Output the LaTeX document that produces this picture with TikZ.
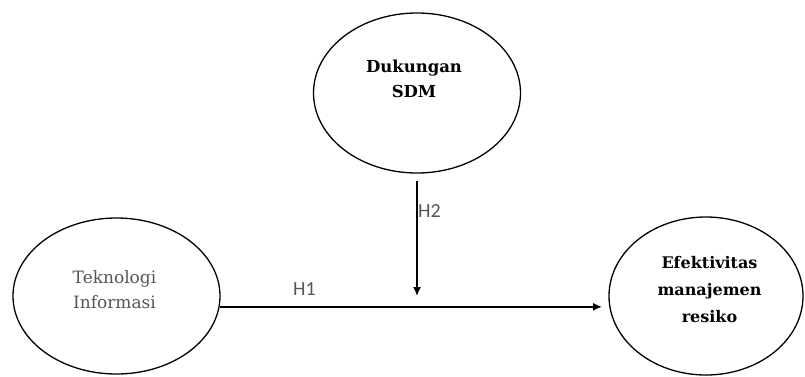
\documentclass[tikz,border=0pt]{standalone}
\usepackage{fontspec}
\setmainfont{DejaVu Serif}
\newfontfamily\hfont{Carlito}
\usetikzlibrary{shapes.geometric,arrows.meta}
\definecolor{txtgray}{HTML}{555555}
\tikzset{
  oval/.style={draw=black, line width=1.3pt, ellipse, inner sep=0pt},
  boldlbl/.style={align=center, anchor=base, font=\fontsize{16.5}{25}\selectfont\bfseries},
  plainlbl/.style={align=center, anchor=base, text=txtgray, font=\fontsize{17}{25}\selectfont},
  hlbl/.style={anchor=base west, inner sep=0pt, text=txtgray, font=\hfont\fontsize{20}{22}\selectfont},
  conn/.style={line width=1.5pt, -{Latex[length=9pt,width=8pt]}}
}
\begin{document}
\begin{tikzpicture}[x=1pt,y=-1pt]
\useasboundingbox (0,0) rectangle (805,376);
\node[oval, minimum width=207pt, minimum height=160pt] (sdm) at (417,93) {};
\node[oval, minimum width=207pt, minimum height=156pt] (ti) at (116.5,296) {};
\node[oval, minimum width=194pt, minimum height=158pt] (ef) at (706,296) {};
\node[boldlbl] (sdmtxt) at (414,97) {Dukungan\\SDM};
\node[plainlbl] (titxt) at (114.5,308) {Teknologi\\Informasi};
\node[boldlbl, font=\fontsize{16}{27}\selectfont\bfseries] (eftxt) at (709.5,322) {Efektivitas\\manajemen\\resiko};
\coordinate (hstart) at (ti.-6);
\coordinate (hend) at (602,0 |- hstart);
\coordinate (vend) at (sdm.south |- 0,296);
\draw[conn] (hstart) -- (hend);
\draw[conn, shorten <=7pt] (sdm.south) -- (vend);
\node[hlbl] (h1) at (293,295) {H1};
\node[hlbl] (h2) at (418,217) {H2};
\end{tikzpicture}
\end{document}
